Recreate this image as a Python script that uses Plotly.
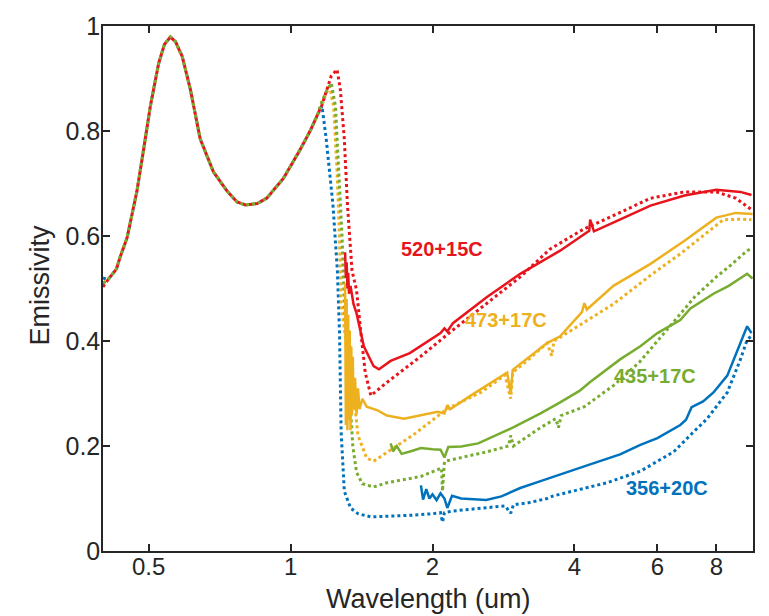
import math
import plotly.graph_objects as go

# ---------------- data ----------------
# Shared visible/NIR part of the model curves (dotted), wavelength in um
SHARED_X = [0.41, 0.427, 0.435, 0.45, 0.46, 0.472, 0.488, 0.504, 0.525, 0.54,
            0.556, 0.57, 0.589, 0.613, 0.643, 0.686, 0.734, 0.77, 0.802, 0.85,
            0.89, 0.966, 1.05, 1.10, 1.138]
SHARED_Y = [0.517, 0.537, 0.56, 0.597, 0.635, 0.685, 0.766, 0.847, 0.929, 0.965,
            0.979, 0.97, 0.942, 0.879, 0.785, 0.722, 0.685, 0.665, 0.659, 0.662,
            0.672, 0.71, 0.766, 0.80, 0.829]

# Model (dotted) tails, per sample
BLUE_MODEL_START = 0.52
BLUE_MODEL_X = [1.166, 1.19, 1.23, 1.257, 1.27, 1.28, 1.30, 1.34, 1.39, 1.48, 1.6,
                1.8, 2.0, 2.08, 2.10, 2.12, 2.2, 2.5, 2.85, 2.93, 2.97, 3.2, 3.5,
                3.61, 4.0, 4.69, 5.52, 6.5, 7.05, 7.65, 8.0, 8.44, 9.0, 9.3, 9.5]
BLUE_MODEL_Y = [0.847, 0.785, 0.659, 0.533, 0.415, 0.227, 0.114, 0.082, 0.071, 0.065,
                0.066, 0.068, 0.071, 0.073, 0.055, 0.073, 0.076, 0.081, 0.086, 0.072,
                0.088, 0.092, 0.1, 0.105, 0.115, 0.13, 0.152, 0.189, 0.221, 0.252,
                0.275, 0.302, 0.365, 0.402, 0.41]

YELLOW_MODEL_START = 0.51
YELLOW_MODEL_X = [1.166, 1.19, 1.21, 1.234, 1.255, 1.27, 1.28, 1.31, 1.36, 1.39, 1.45,
                  1.50, 1.65, 1.82, 2.15, 2.53, 2.85, 2.93, 2.96, 3.2, 3.5, 3.58,
                  3.62, 3.7, 4.85, 5.8, 6.71, 7.5, 8.28, 9.0, 9.5]
YELLOW_MODEL_Y = [0.85, 0.872, 0.885, 0.847, 0.722, 0.597, 0.471, 0.40, 0.30, 0.22,
                  0.177, 0.171, 0.195, 0.221, 0.271, 0.302, 0.335, 0.29, 0.34, 0.365,
                  0.396, 0.372, 0.40, 0.405, 0.471, 0.525, 0.566, 0.60, 0.631, 0.632,
                  0.631]

GREEN_MODEL_START = 0.51
GREEN_MODEL_X = [1.166, 1.19, 1.22, 1.245, 1.265, 1.286, 1.30, 1.33, 1.355, 1.38,
                 1.42, 1.5, 1.6, 1.89, 2.05, 2.09, 2.10, 2.12, 2.15, 2.61, 2.9, 2.93,
                 2.97, 3.39, 3.65, 3.7, 3.75, 4.2, 4.84, 5.5, 6.0, 6.7, 7.2, 8.0,
                 8.6, 9.3, 9.55]
GREEN_MODEL_Y = [0.857, 0.875, 0.891, 0.847, 0.722, 0.597, 0.471, 0.33, 0.2, 0.15,
                 0.128, 0.122, 0.13, 0.142, 0.156, 0.158, 0.114, 0.17, 0.172, 0.189,
                 0.2, 0.22, 0.2, 0.235, 0.252, 0.235, 0.258, 0.275, 0.315, 0.36,
                 0.40, 0.45, 0.484, 0.522, 0.545, 0.572, 0.577]

RED_MODEL_START = 0.503
RED_MODEL_X = [1.166, 1.19, 1.22, 1.255, 1.275, 1.30, 1.32, 1.35, 1.38, 1.41, 1.44,
               1.48, 1.6, 1.89, 2.21, 2.61, 3.07, 3.55, 4.18, 4.9, 5.8, 6.85, 8.0,
               8.8, 9.4, 9.57]
RED_MODEL_Y = [0.85, 0.875, 0.905, 0.917, 0.879, 0.785, 0.66, 0.534, 0.497, 0.415,
               0.34, 0.296, 0.321, 0.371, 0.421, 0.472, 0.522, 0.575, 0.613, 0.641,
               0.672, 0.684, 0.684, 0.672, 0.653, 0.648]

# Measured (solid) spectra
BLUE_MEAS_X = [1.89, 1.91, 1.94, 1.97, 2.0, 2.04, 2.08, 2.12, 2.15, 2.2, 2.3, 2.45,
               2.6, 2.8, 3.07, 3.39, 3.73, 4.32, 5.0, 5.52, 6.0, 6.71, 6.9, 7.0,
               7.09, 7.5, 7.89, 8.44, 9.0, 9.3, 9.5]
BLUE_MEAS_Y = [0.125, 0.098, 0.118, 0.10, 0.108, 0.097, 0.11, 0.1, 0.082, 0.105,
               0.10, 0.099, 0.097, 0.104, 0.12, 0.133, 0.146, 0.165, 0.184, 0.202,
               0.215, 0.24, 0.25, 0.262, 0.274, 0.285, 0.302, 0.334, 0.397, 0.428,
               0.415]

YELLOW_MEAS_X = [1.305, 1.31, 1.315, 1.32, 1.325, 1.33, 1.335, 1.34, 1.345, 1.35,
                 1.355, 1.36, 1.37, 1.38, 1.39, 1.40, 1.42, 1.45, 1.53, 1.6, 1.74,
                 1.89, 2.05, 2.12, 2.15, 2.18, 2.41, 2.88, 2.93, 2.96, 3.5, 3.73,
                 4.15, 4.2, 4.25, 4.84, 5.8, 6.85, 8.0, 8.8, 9.55]
YELLOW_MEAS_Y = [0.51, 0.24, 0.48, 0.23, 0.45, 0.25, 0.42, 0.23, 0.39, 0.26, 0.37,
                 0.27, 0.33, 0.26, 0.31, 0.27, 0.29, 0.275, 0.268, 0.258, 0.252,
                 0.258, 0.265, 0.262, 0.278, 0.27, 0.296, 0.34, 0.30, 0.345, 0.396,
                 0.409, 0.455, 0.472, 0.46, 0.505, 0.547, 0.591, 0.635, 0.644, 0.642]

GREEN_MEAS_X = [1.63, 1.65, 1.68, 1.72, 1.8, 1.89, 2.0, 2.08, 2.12, 2.16, 2.3, 2.5,
                2.96, 3.39, 3.73, 4.1, 4.32, 5.0, 5.52, 6.0, 6.71, 7.05, 7.89, 8.5,
                9.3, 9.55]
GREEN_MEAS_Y = [0.205, 0.19, 0.2, 0.185, 0.19, 0.196, 0.194, 0.193, 0.178, 0.198,
                0.199, 0.205, 0.235, 0.262, 0.283, 0.305, 0.322, 0.365, 0.39, 0.415,
                0.44, 0.462, 0.49, 0.505, 0.528, 0.519]

RED_MEAS_X = [1.305, 1.31, 1.315, 1.32, 1.325, 1.33, 1.34, 1.36, 1.38, 1.43, 1.50,
              1.54, 1.63, 1.79, 2.08, 2.12, 2.15, 2.21, 2.61, 3.07, 3.73, 4.18,
              4.3, 4.32, 4.4, 4.9, 5.8, 6.85, 8.0, 9.0, 9.5]
RED_MEAS_Y = [0.569, 0.52, 0.55, 0.5, 0.53, 0.49, 0.505, 0.47, 0.453, 0.39, 0.352,
              0.346, 0.362, 0.377, 0.415, 0.424, 0.418, 0.434, 0.484, 0.528, 0.572,
              0.603, 0.61, 0.631, 0.609, 0.628, 0.658, 0.677, 0.688, 0.684, 0.678]

LABELS = ["520+15C", "473+17C", "435+17C", "356+20C"]
LABEL_X = [2.09, 2.86, 5.94, 6.3]
LABEL_Y = [0.575, 0.44, 0.334, 0.12]

X_TICKS = [0.5, 1, 2, 4, 6, 8]
X_TICK_TEXT = ["0.5", "1", "2", "4", "6", "8"]
Y_TICKS = [0, 0.2, 0.4, 0.6, 0.8, 1]
Y_TICK_TEXT = ["0", "0.2", "0.4", "0.6", "0.8", "1"]

# ---------------- styles ----------------
BLUE = "#0072BD"
YELLOW = "#EDB120"
GREEN = "#77AC30"
RED = "#E8141C"
AXIS = "#262626"
FONT = "Liberation Sans, Arial, Helvetica, sans-serif"

fig = go.Figure()

models = [
    (BLUE, BLUE_MODEL_START, BLUE_MODEL_X, BLUE_MODEL_Y),
    (YELLOW, YELLOW_MODEL_START, YELLOW_MODEL_X, YELLOW_MODEL_Y),
    (GREEN, GREEN_MODEL_START, GREEN_MODEL_X, GREEN_MODEL_Y),
    (RED, RED_MODEL_START, RED_MODEL_X, RED_MODEL_Y),
]
for color, y0, tx, ty in models:
    fig.add_trace(go.Scatter(
        x=[0.4] + SHARED_X + tx, y=[y0] + SHARED_Y + ty,
        mode="lines", line=dict(color=color, width=3, dash="dot"),
        showlegend=False, hoverinfo="skip"))

measured = [
    (BLUE, BLUE_MEAS_X, BLUE_MEAS_Y),
    (GREEN, GREEN_MEAS_X, GREEN_MEAS_Y),
    (YELLOW, YELLOW_MEAS_X, YELLOW_MEAS_Y),
    (RED, RED_MEAS_X, RED_MEAS_Y),
]
for color, mx, my in measured:
    fig.add_trace(go.Scatter(
        x=mx, y=my, mode="lines", line=dict(color=color, width=2.5),
        showlegend=False, hoverinfo="skip"))

label_colors = [RED, YELLOW, GREEN, BLUE]
annotations = []
for txt, lx, ly, c in zip(LABELS, LABEL_X, LABEL_Y, label_colors):
    annotations.append(dict(
        x=math.log10(lx), y=ly, xref="x", yref="y", text="<b>%s</b>" % txt,
        showarrow=False, font=dict(family=FONT, size=20, color=c),
        xanchor="center", yanchor="middle"))

annotations.append(dict(
    x=-0.0975, y=0.505, xref="paper", yref="paper", text="Emissivity",
    textangle=-90, showarrow=False, font=dict(family=FONT, size=27, color=AXIS),
    xanchor="center", yanchor="middle"))
annotations.append(dict(
    x=0.501, y=-0.091, xref="paper", yref="paper", text="Wavelength (um)",
    showarrow=False, font=dict(family=FONT, size=27, color=AXIS),
    xanchor="center", yanchor="middle"))

fig.update_layout(
    width=769, height=616,
    margin=dict(l=103, r=16, t=19, b=65),
    paper_bgcolor="white", plot_bgcolor="white",
    font=dict(family=FONT, color=AXIS),
    annotations=annotations,
    xaxis=dict(
        type="log", range=[math.log10(0.4), math.log10(9.57)],
        tickvals=X_TICKS, ticktext=X_TICK_TEXT,
        ticks="inside", ticklen=7, tickwidth=1.5, tickcolor=AXIS,
        showline=True, linecolor=AXIS, linewidth=1.5, mirror="ticks",
        showgrid=False, zeroline=False, ticklabelstandoff=-7,
        tickfont=dict(family=FONT, size=24, color=AXIS)),
    yaxis=dict(
        range=[0, 1], tickvals=Y_TICKS, ticktext=Y_TICK_TEXT,
        ticks="inside", ticklen=7, tickwidth=1.5, tickcolor=AXIS,
        showline=True, linecolor=AXIS, linewidth=1.5, mirror="ticks",
        showgrid=False, zeroline=False, ticklabelstandoff=-4,
        tickfont=dict(family=FONT, size=25, color=AXIS)),
)

fig.write_html("out.html")
